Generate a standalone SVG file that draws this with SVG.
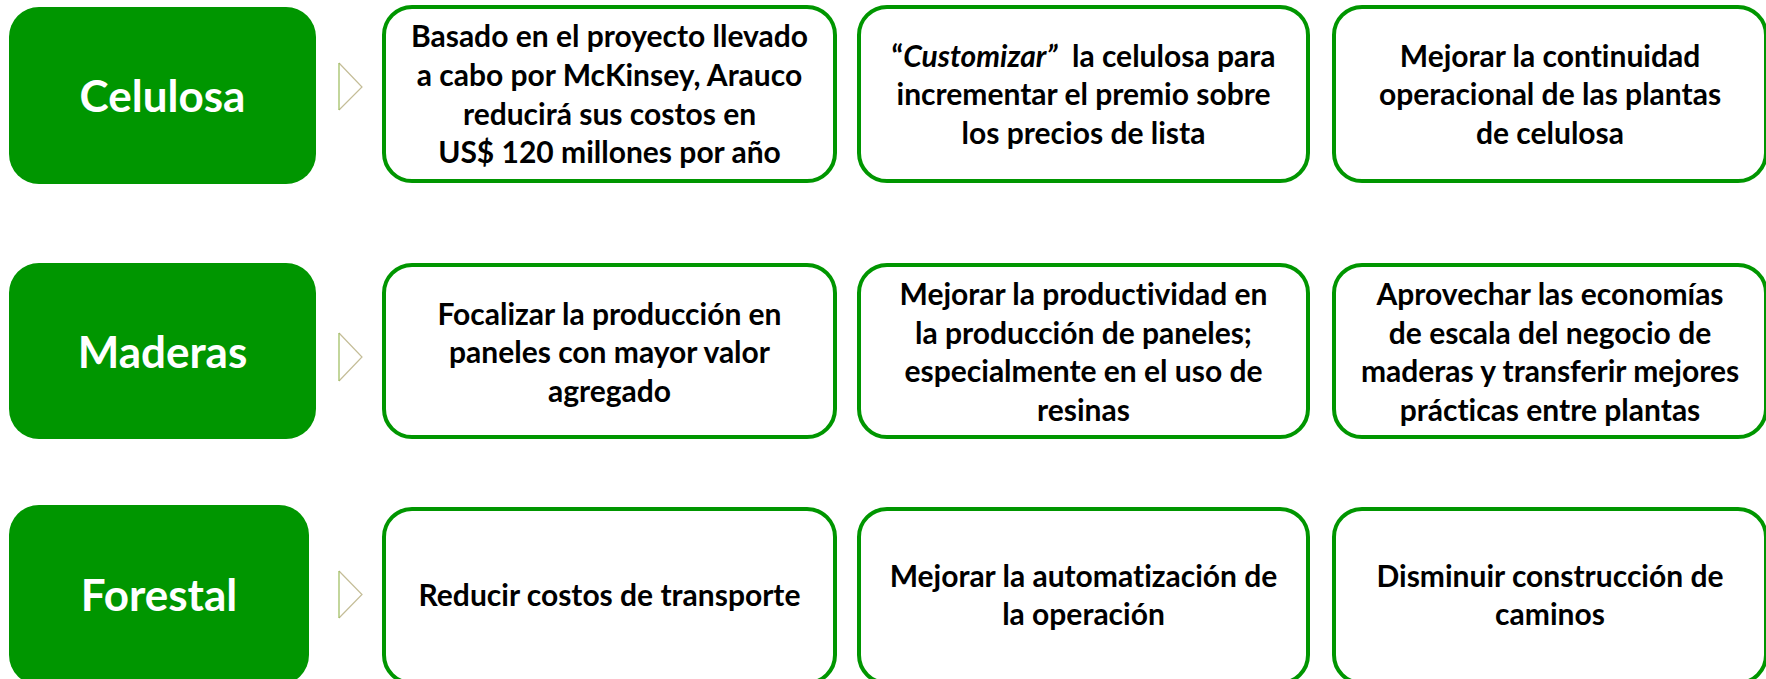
<svg xmlns="http://www.w3.org/2000/svg" width="1766" height="679" viewBox="0 0 1766 679">
<style>
.cat{fill:#009600}
.catt{font-family:Lato,"Open Sans","Liberation Sans",sans-serif;font-weight:bold;font-size:44px;fill:#ffffff;text-anchor:middle;font-variant-ligatures:none}
.box{fill:#ffffff;stroke:#009600;stroke-width:4}
.t{font-family:Lato,"Open Sans","Liberation Sans",sans-serif;font-weight:bold;font-size:30px;fill:#000000;text-anchor:middle;font-variant-ligatures:none}
.chev{fill:none;stroke:#c4bd97;stroke-width:1.2}
.chevl{stroke:#9bbb59;stroke-width:1.2}
</style>
<rect width="1766" height="679" fill="#ffffff"/>

<g id="connectors">
<polyline class="chev" points="339,63 362,87 339,110"/>
<line class="chevl" x1="339" y1="63" x2="339" y2="110"/>
<polyline class="chev" points="339,333 362,357 339,381"/>
<line class="chevl" x1="339" y1="333" x2="339" y2="381"/>
<polyline class="chev" points="339,571 362,594.5 339,618"/>
<line class="chevl" x1="339" y1="571" x2="339" y2="618"/>
</g>

<g id="celulosa">
<rect class="cat" x="9" y="7" width="307" height="177" rx="30"/>
<text class="catt" x="162.5" y="112">Celulosa</text>
</g>
<g id="maderas">
<rect class="cat" x="9" y="263" width="307" height="176" rx="30"/>
<text class="catt" x="162.5" y="368">Maderas</text>
</g>
<g id="forestal">
<rect class="cat" x="9" y="505" width="300" height="180" rx="30"/>
<text class="catt" x="159" y="611">Forestal</text>
</g>

<g id="c1">
<rect class="box" x="384" y="7" width="451" height="174" rx="28"/>
<text class="t" x="609.5" y="47">Basado en el proyecto llevado</text>
<text class="t" x="609.5" y="86">a cabo por McKinsey, Arauco</text>
<text class="t" x="609.5" y="125">reducirá sus costos en</text>
<text class="t" x="609.5" y="163">US$ 120 millones por año</text>
</g>
<g id="c2">
<rect class="box" x="859" y="7" width="449" height="174" rx="28"/>
<text class="t" x="1083.5" y="66.5" xml:space="preserve">“<tspan font-style="italic">Customizar”</tspan>  la celulosa para</text>
<text class="t" x="1083.5" y="105">incrementar el premio sobre</text>
<text class="t" x="1083.5" y="143.5">los precios de lista</text>
</g>
<g id="c3">
<rect class="box" x="1334" y="7" width="432" height="174" rx="28"/>
<text class="t" x="1550" y="66.5">Mejorar la continuidad</text>
<text class="t" x="1550" y="105">operacional de las plantas</text>
<text class="t" x="1550" y="143.5">de celulosa</text>
</g>

<g id="m1">
<rect class="box" x="384" y="265" width="451" height="172" rx="28"/>
<text class="t" x="609.5" y="324.5">Focalizar la producción en</text>
<text class="t" x="609.5" y="363">paneles con mayor valor</text>
<text class="t" x="609.5" y="401.5">agregado</text>
</g>
<g id="m2">
<rect class="box" x="859" y="265" width="449" height="172" rx="28"/>
<text class="t" x="1083.5" y="305.25">Mejorar la productividad en</text>
<text class="t" x="1083.5" y="343.75">la producción de paneles;</text>
<text class="t" x="1083.5" y="382.25">especialmente en el uso de</text>
<text class="t" x="1083.5" y="420.75">resinas</text>
</g>
<g id="m3">
<rect class="box" x="1334" y="265" width="432" height="172" rx="28"/>
<text class="t" x="1550" y="305.25">Aprovechar las economías</text>
<text class="t" x="1550" y="343.75">de escala del negocio de</text>
<text class="t" x="1550" y="382.25">maderas y transferir mejores</text>
<text class="t" x="1550" y="420.75">prácticas entre plantas</text>
</g>

<g id="f1">
<rect class="box" x="384" y="509" width="451" height="174" rx="28"/>
<text class="t" x="609.5" y="606">Reducir costos de transporte</text>
</g>
<g id="f2">
<rect class="box" x="859" y="509" width="449" height="174" rx="28"/>
<text class="t" x="1083.5" y="586.75">Mejorar la automatización de</text>
<text class="t" x="1083.5" y="625.25">la operación</text>
</g>
<g id="f3">
<rect class="box" x="1334" y="509" width="432" height="174" rx="28"/>
<text class="t" x="1550" y="586.75">Disminuir construcción de</text>
<text class="t" x="1550" y="625.25">caminos</text>
</g>
</svg>
